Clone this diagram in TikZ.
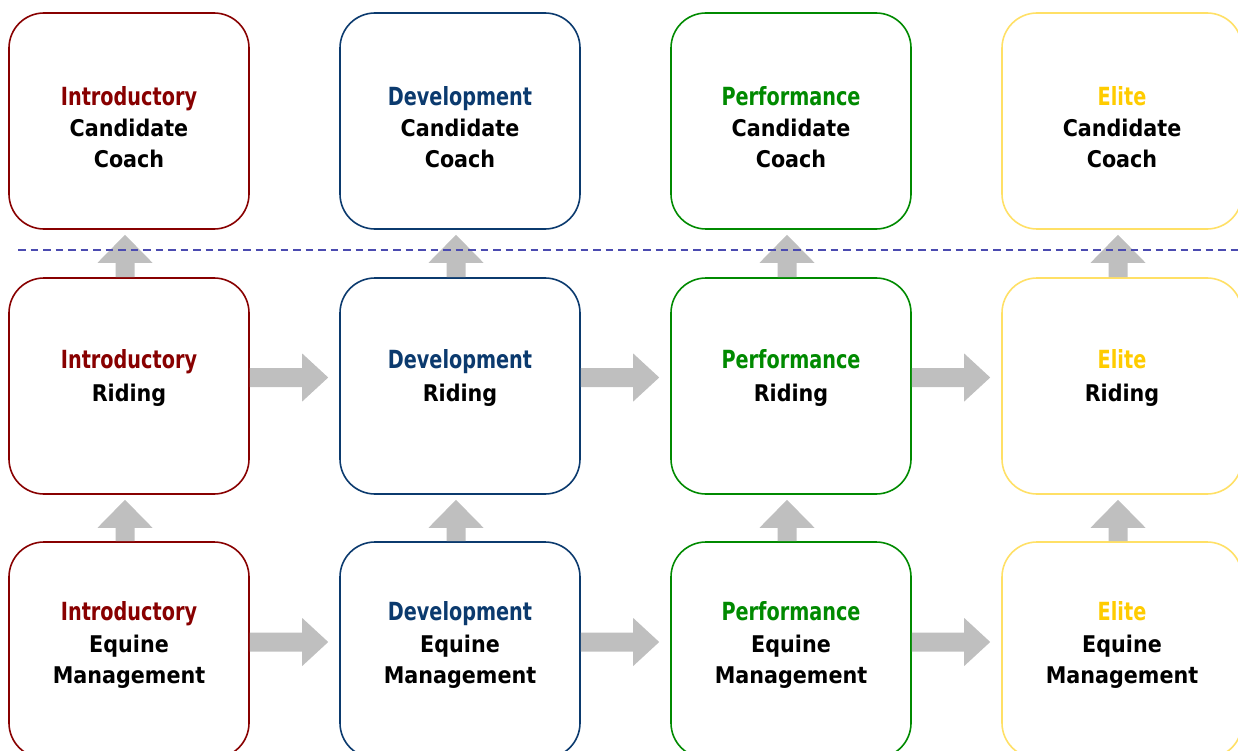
\documentclass[tikz,border=0pt]{standalone}
\usepackage{fontspec}
\setmainfont{DejaVu Sans}
\newfontfamily\bodyfont{DejaVu Sans}[FakeStretch=0.9]
\newfontfamily\titlefont{DejaVu Sans}[FakeStretch=0.77]
\usetikzlibrary{calc}
\definecolor{cIntro}{HTML}{880000}
\definecolor{cDev}{HTML}{0B3A6E}
\definecolor{cPerf}{HTML}{008A00}
\definecolor{cElite}{HTML}{FFCC00}
\definecolor{cEliteB}{HTML}{FFE066}
\definecolor{cArrow}{HTML}{BFBFBF}
\definecolor{cDash}{HTML}{4B4BB0}
\tikzset{
  stage/.style={rectangle, rounded corners=35pt, minimum width=240pt, minimum height=216pt, line width=1.6pt, fill=white},
  ttl/.style={anchor=base, inner sep=0pt, font=\fontsize{25}{30}\selectfont\titlefont\bfseries},
  txt/.style={anchor=base, inner sep=0pt, font=\fontsize{23}{28}\selectfont\bodyfont\bfseries},
  blockarrow/.style={fill=cArrow},
  dashline/.style={draw=cDash, line width=1.5pt, dash pattern=on 7.5pt off 5pt}
}
\newcommand\harr[3]{\fill[blockarrow] ($(#1.east)+(0,#3-9.5)$) -- ($(#2.west)+(-37,#3-9.5)$) -- ($(#2.west)+(-37,#3-24)$) -- ($(#2.west)+(-11,#3)$) -- ($(#2.west)+(-37,#3+24)$) -- ($(#2.west)+(-37,#3+9.5)$) -- ($(#1.east)+(0,#3+9.5)$) -- cycle;}
\newcommand\varr[3]{\fill[blockarrow] ($(#1.north)+(#3-9.5,0)$) -- ($(#2.south)+(#3-9.5,33)$) -- ($(#2.south)+(#3-27.5,33)$) -- ($(#2.south)+(#3,5)$) -- ($(#2.south)+(#3+27.5,33)$) -- ($(#2.south)+(#3+9.5,33)$) -- ($(#1.north)+(#3+9.5,0)$) -- cycle;}
\begin{document}
\begin{tikzpicture}[x=1pt,y=-1pt]
\useasboundingbox (0,0) rectangle (1238,751);
% boxes
\node[stage, draw=cIntro] (b11) at (129,121) {};
\node[stage, draw=cDev] (b12) at (460,121) {};
\node[stage, draw=cPerf] (b13) at (791,121) {};
\node[stage, draw=cEliteB] (b14) at (1122,121) {};
\node[stage, draw=cIntro] (b21) at (129,386) {};
\node[stage, draw=cDev] (b22) at (460,386) {};
\node[stage, draw=cPerf] (b23) at (791,386) {};
\node[stage, draw=cEliteB] (b24) at (1122,386) {};
\node[stage, draw=cIntro] (b31) at (129,650) {};
\node[stage, draw=cDev] (b32) at (460,650) {};
\node[stage, draw=cPerf] (b33) at (791,650) {};
\node[stage, draw=cEliteB] (b34) at (1122,650) {};
% texts row 1
\node[ttl, text=cIntro] (t11a) at (129,106) {Introductory};
\node[txt] (t11b) at (129,137) {Candidate};
\node[txt] (t11c) at (129,168) {Coach};
\node[ttl, text=cDev] (t12a) at (460,106) {Development};
\node[txt] (t12b) at (460,137) {Candidate};
\node[txt] (t12c) at (460,168) {Coach};
\node[ttl, text=cPerf] (t13a) at (791,106) {Performance};
\node[txt] (t13b) at (791,137) {Candidate};
\node[txt] (t13c) at (791,168) {Coach};
\node[ttl, text=cElite] (t14a) at (1122,106) {Elite};
\node[txt] (t14b) at (1122,137) {Candidate};
\node[txt] (t14c) at (1122,168) {Coach};
% texts row 2
\node[ttl, text=cIntro] (t21a) at (129,368) {Introductory};
\node[txt] (t21b) at (129,401) {Riding};
\node[ttl, text=cDev] (t22a) at (460,368) {Development};
\node[txt] (t22b) at (460,401) {Riding};
\node[ttl, text=cPerf] (t23a) at (791,368) {Performance};
\node[txt] (t23b) at (791,401) {Riding};
\node[ttl, text=cElite] (t24a) at (1122,368) {Elite};
\node[txt] (t24b) at (1122,401) {Riding};
% texts row 3
\node[ttl, text=cIntro] (t31a) at (129,620) {Introductory};
\node[txt] (t31b) at (129,652) {Equine};
\node[txt] (t31c) at (129,683) {Management};
\node[ttl, text=cDev] (t32a) at (460,620) {Development};
\node[txt] (t32b) at (460,652) {Equine};
\node[txt] (t32c) at (460,683) {Management};
\node[ttl, text=cPerf] (t33a) at (791,620) {Performance};
\node[txt] (t33b) at (791,652) {Equine};
\node[txt] (t33c) at (791,683) {Management};
\node[ttl, text=cElite] (t34a) at (1122,620) {Elite};
\node[txt] (t34b) at (1122,652) {Equine};
\node[txt] (t34c) at (1122,683) {Management};
% horizontal arrows
\harr{b21}{b22}{-8.5}
\harr{b22}{b23}{-8.5}
\harr{b23}{b24}{-8.5}
\harr{b31}{b32}{-8}
\harr{b32}{b33}{-8}
\harr{b33}{b34}{-8}
% vertical arrows
\varr{b21}{b11}{-4}
\varr{b22}{b12}{-4}
\varr{b23}{b13}{-4}
\varr{b24}{b14}{-4}
\varr{b31}{b21}{-4}
\varr{b32}{b22}{-4}
\varr{b33}{b23}{-4}
\varr{b34}{b24}{-4}
% separator
\draw[dashline] (18,250) -- (1238,250);
\end{tikzpicture}
\end{document}
